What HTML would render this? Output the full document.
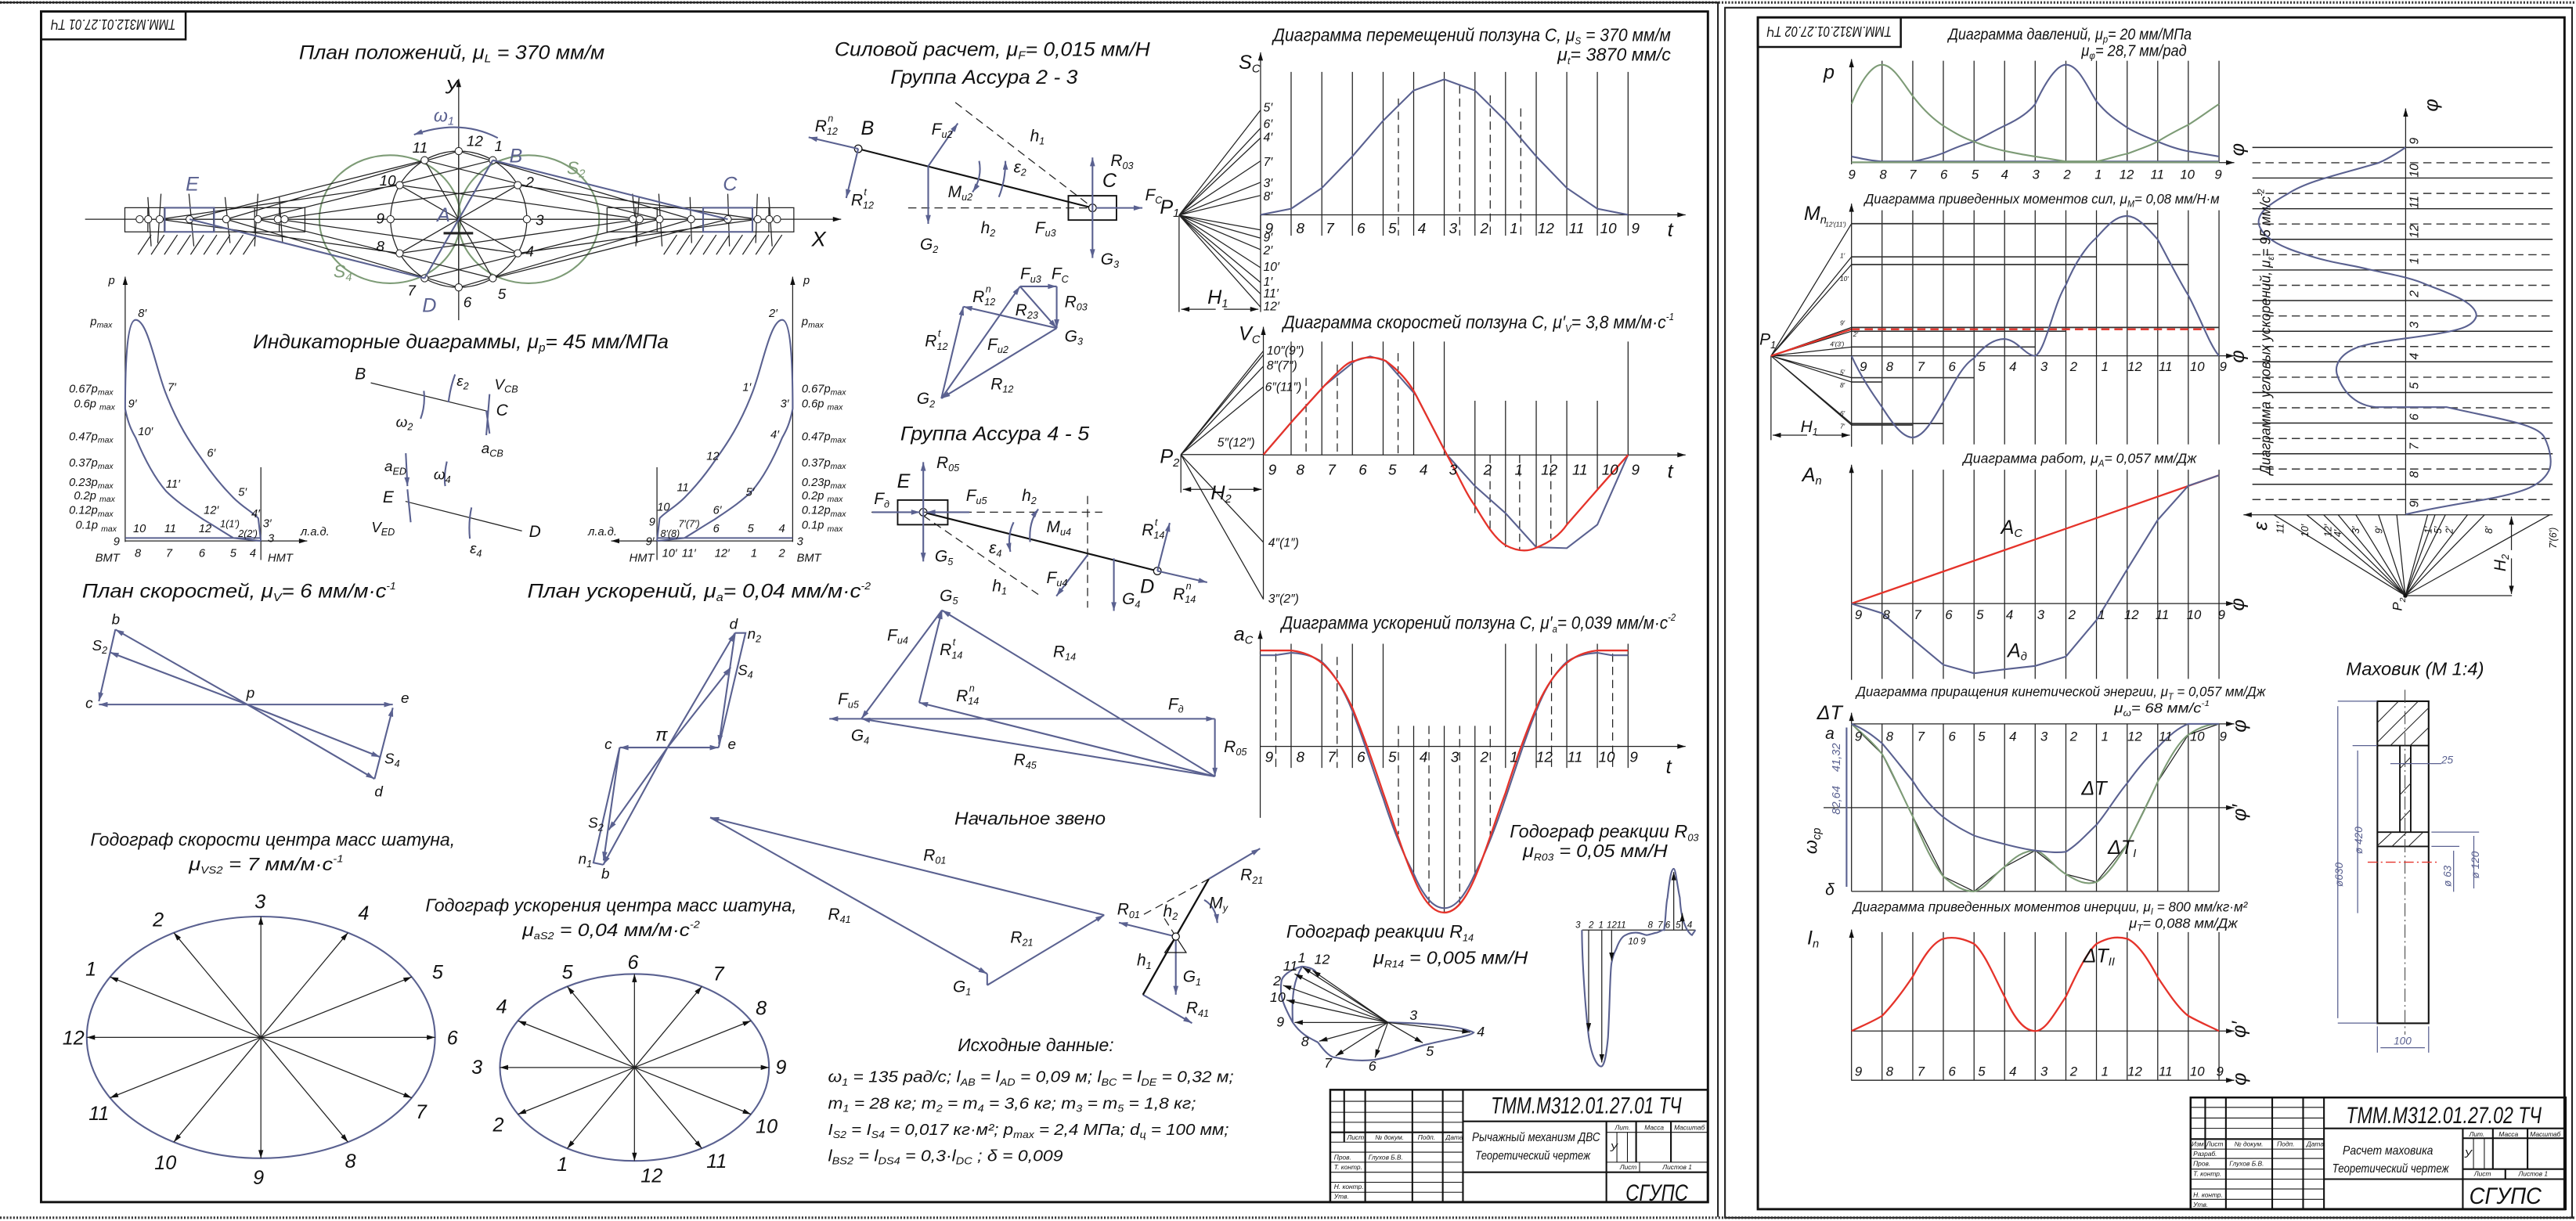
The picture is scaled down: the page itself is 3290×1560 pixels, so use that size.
<!DOCTYPE html>
<html><head><meta charset="utf-8"><style>
html,body{margin:0;padding:0;background:#fff}
svg{display:block}
text{font-family:"Liberation Sans Narrow","Liberation Sans",sans-serif;font-style:italic;fill:#111}
.b{stroke:#5a6190;fill:none;stroke-width:1}
.k{stroke:#222;fill:none;stroke-width:.6}
.g{stroke:#7d9b76;fill:none;stroke-width:1}
.r{stroke:#e5332a;fill:none;stroke-width:1.1}
.d{stroke-dasharray:5 3}
</style></head><body>
<svg width="3290" height="1560" viewBox="0 0 1568 743.5" preserveAspectRatio="none" xmlns="http://www.w3.org/2000/svg">
<defs>
<marker id="ab" viewBox="0 0 10 6" refX="10" refY="3" markerWidth="7" markerHeight="3.2" markerUnits="userSpaceOnUse" orient="auto"><path d="M0 0L10 3L0 6z" fill="#5a6190"/></marker>
<marker id="ak" viewBox="0 0 10 6" refX="10" refY="3" markerWidth="7" markerHeight="3" markerUnits="userSpaceOnUse" orient="auto"><path d="M0 0L10 3L0 6z" fill="#111"/></marker>
</defs>
<rect width="1568" height="743.5" fill="#fff"/>
<line x1="0" y1="1.5" x2="1568" y2="1.5" stroke="#333" stroke-width="1.5" stroke-dasharray="1 1"/>
<path d="M0 1.5H1045.7V741" stroke="#222" stroke-width="1" fill="none"/>
<rect x="25" y="7" width="1014.6" height="725" fill="none" stroke="#111" stroke-width="1.4"/>
<path d="M1050 4.7H1565.6V741.5H1050z" stroke="#222" stroke-width="1" fill="none"/>
<rect x="1070" y="10.6" width="491" height="725.7" fill="none" stroke="#111" stroke-width="1.4"/>
<line x1="0" y1="741.5" x2="1568" y2="741.5" stroke="#333" stroke-width="1.5" stroke-dasharray="1 1"/>
<rect x="25" y="7" width="88" height="17" fill="none" stroke="#111" stroke-width="1.2"/>
<text transform="rotate(180 69 15.5)" x="31" y="19" font-size="9" textLength="76" lengthAdjust="spacingAndGlyphs">ТММ.М312.01.27.01 ТЧ</text>
<rect x="1070" y="10.6" width="87" height="18" fill="none" stroke="#111" stroke-width="1.2"/>
<text transform="rotate(180 1113.5 19.6)" x="1075.5" y="23" font-size="9" textLength="76" lengthAdjust="spacingAndGlyphs">ТММ.М312.01.27.02 ТЧ</text>

<!-- Plan of positions -->
<text x="182" y="36" font-size="12" textLength="186" lengthAdjust="spacingAndGlyphs">План положений, μ<tspan font-size="7" dy="2">L</tspan><tspan dy="-2"> = 370 мм/м</tspan></text>
<line x1="279.2" y1="195" x2="279.2" y2="48" class="k" stroke-width=".8" marker-end="url(#ak)"/>
<line x1="51.8" y1="133.5" x2="512" y2="133.5" class="k" stroke-width=".7" marker-end="url(#ak)"/>
<text x="271" y="57" font-size="12">У</text><text x="494" y="150" font-size="13">X</text>
<path class="k" d="M76 126.5H185.6V141.2H76zM90 126.5V141.2M100 126.5V141.2M130 126.5V141.2M155 126.5V141.2M170 126.5V141.2M369.5 126.5H483.2V141.2H369.5zM387 126.5V141.2M400 126.5V141.2M428 126.5V141.2M458 126.5V141.2M468 126.5V141.2"/>
<path class="k" stroke-width=".5" d="M92 155L100 143M100 155L108 143M108 155L116 143M116 155L124 143M124 155L132 143M132 155L140 143M140 155L148 143M148 155L156 143M84 155L92 143M420 155L428 143M428 155L436 143M436 155L444 143M444 155L452 143M452 155L460 143M460 155L468 143M468 155L476 143M412 155L420 143M404 155L412 143M90 120L92 150M98 118L96 148M115 118L118 150M137 120L140 148M157 118L155 150M170 120L172 148M385 118L388 148M389 120L387 150M401 118L403 150M420 120L421 148M443 118L444 150M461 118L460 148M468 120L470 150"/>
<ellipse cx="237.4" cy="133.5" rx="43" ry="39" class="g" stroke-width=".8"/>
<ellipse cx="321.7" cy="133.5" rx="43" ry="39" class="g" stroke-width=".8"/>
<ellipse cx="279.2" cy="133.5" rx="41.5" ry="41.5" class="k"/>
<path class="k" stroke-width=".55" d="M279.2 92L420.7 133.5M299.95 97.56L443 133.5M315.14 112.75L461.2 133.5M320.7 133.5L468.2 133.5M315.14 154.25L461.2 133.5M299.95 169.44L443 133.5M279.2 175L420.7 133.5M258.45 169.44L401.5 133.5M243.26 154.25L389.3 133.5M237.7 133.5L385.2 133.5M243.26 112.75L389.3 133.5M258.45 97.56L401.5 133.5
M279.2 92L137.7 133.5M299.95 97.56L156.9 133.5M315.14 112.75L169.1 133.5M315.14 154.25L169.1 133.5M299.95 169.44L156.9 133.5M279.2 175L137.7 133.5M258.45 169.44L115.4 133.5M243.26 154.25L97.2 133.5M237.7 133.5L90.2 133.5M243.26 112.75L97.2 133.5M258.45 97.56L115.4 133.5
M279.2 92L279.2 175M299.95 97.56L258.45 169.44M315.14 112.75L243.26 154.25M315.14 154.25L243.26 112.75M299.95 169.44L258.45 97.56"/>
<g fill="#fff" stroke="#222" stroke-width=".5">
<circle cx="279.2" cy="92" r="2.2"/><circle cx="299.95" cy="97.56" r="2.2"/><circle cx="315.14" cy="112.75" r="2.2"/><circle cx="320.7" cy="133.5" r="2.2"/><circle cx="315.14" cy="154.25" r="2.2"/><circle cx="299.95" cy="169.44" r="2.2"/><circle cx="279.2" cy="175" r="2.2"/><circle cx="258.45" cy="169.44" r="2.2"/><circle cx="243.26" cy="154.25" r="2.2"/><circle cx="237.7" cy="133.5" r="2.2"/><circle cx="243.26" cy="112.75" r="2.2"/><circle cx="258.45" cy="97.56" r="2.2"/>
<circle cx="420.7" cy="133.5" r="2.2"/><circle cx="443" cy="133.5" r="2.2"/><circle cx="461.2" cy="133.5" r="2.2"/><circle cx="468.2" cy="133.5" r="2.2"/><circle cx="401.5" cy="133.5" r="2.2"/><circle cx="389.3" cy="133.5" r="2.2"/><circle cx="385.2" cy="133.5" r="2.2"/><circle cx="473" cy="133.5" r="2.2"/>
<circle cx="137.7" cy="133.5" r="2.2"/><circle cx="156.9" cy="133.5" r="2.2"/><circle cx="169.1" cy="133.5" r="2.2"/><circle cx="173.2" cy="133.5" r="2.2"/><circle cx="115.4" cy="133.5" r="2.2"/><circle cx="97.2" cy="133.5" r="2.2"/><circle cx="90.2" cy="133.5" r="2.2"/><circle cx="85" cy="133.5" r="2.2"/>
</g>
<path class="b" stroke-width="1.8" d="M299.95 97.56L443 133.5M258.45 169.44L115.4 133.5M299.95 97.56L258.45 169.44"/>
<rect x="428" y="126.5" width="30" height="14.7" class="b" stroke-width="1.6"/>
<rect x="100.3" y="126.5" width="30" height="14.7" class="b" stroke-width="1.6"/>
<path d="M303 84Q280 72 252 82" class="b" stroke-width="1.2" marker-end="url(#ab)"/>
<line x1="270" y1="142" x2="288" y2="142" stroke="#222" stroke-width="1.5"/>
<g font-size="9">
<text x="264" y="74" style="fill:#5a6190" font-size="11">ω<tspan font-size="7" dy="2">1</tspan></text>
<text x="284" y="89">12</text><text x="301" y="92">1</text><text x="310" y="99" font-size="12" style="fill:#5a6190">B</text>
<text x="251" y="93">11</text><text x="231" y="113">10</text><text x="320" y="114">2</text><text x="229" y="136">9</text><text x="326" y="137">3</text>
<text x="229" y="153">8</text><text x="320" y="156">4</text><text x="248" y="180">7</text><text x="257" y="190" font-size="12" style="fill:#5a6190">D</text><text x="282" y="187">6</text><text x="303" y="182">5</text>
<text x="266" y="135" font-size="12" style="fill:#5a6190">A</text>
<text x="113" y="116" font-size="12" style="fill:#5a6190">E</text><text x="440" y="116" font-size="12" style="fill:#5a6190">C</text>
<text x="345" y="106" font-size="11" style="fill:#7d9b76">S<tspan font-size="7" dy="2">2</tspan></text>
<text x="203" y="169" font-size="11" style="fill:#7d9b76">S<tspan font-size="7" dy="2">4</tspan></text>
</g>

<!-- Indicator diagrams -->
<text x="154" y="212" font-size="12" textLength="253" lengthAdjust="spacingAndGlyphs">Индикаторные диаграммы, μ<tspan font-size="7" dy="2">p</tspan><tspan dy="-2">= 45 мм/МПа</tspan></text>
<line x1="76.2" y1="330" x2="76.2" y2="168.5" class="k" marker-end="url(#ak)"/>
<line x1="76.2" y1="329.4" x2="187" y2="329.4" class="k" marker-end="url(#ak)"/>
<line x1="158.8" y1="284.5" x2="158.8" y2="341" class="k"/>
<path class="b" d="M76.2 249C76.2 215 78 194.8 82.6 194.8C90 194.8 95 225 101 239.7C108 258 116 270 123 279.7C130 290 136 297 142.1 303.1C148 309 154 312 157.2 315.6L158.8 329.4M76.2 249C78 258 80 262 82.6 266.6C89 282 95 292 101 299C108 306 116 311 123.7 316.3C130 320 136 324 142.1 327.6L158.8 329.4M76.2 327.6H158.8"/>
<line x1="482.5" y1="330" x2="482.5" y2="168.5" class="k" marker-end="url(#ak)"/>
<line x1="482.5" y1="329.4" x2="372" y2="329.4" class="k" marker-end="url(#ak)"/>
<line x1="399.9" y1="284.5" x2="399.9" y2="341" class="k"/>
<path class="b" d="M482.5 249C482.5 215 480.7 194.8 476.1 194.8C468.7 194.8 463.7 225 457.7 239.7C450.7 258 442.7 270 435.7 279.7C428.7 290 422.7 297 416.6 303.1C410.7 309 404.7 312 401.5 315.6L399.9 329.4M482.5 249C480.7 258 478.7 262 476.1 266.6C469.7 282 463.7 292 457.7 299C450.7 306 442.7 311 435 316.3C428.7 320 422.7 324 416.6 327.6L399.9 329.4M482.5 327.6H399.9"/>
<g font-size="7">
<text x="66" y="173">p</text><text x="55" y="198">p<tspan font-size="5" dy="1.5">max</tspan></text>
<text x="42" y="239">0.67p<tspan font-size="5" dy="1.5">max</tspan></text><text x="45" y="248">0.6p <tspan font-size="5" dy="1.5">max</tspan></text>
<text x="42" y="268">0.47p<tspan font-size="5" dy="1.5">max</tspan></text><text x="42" y="284">0.37p<tspan font-size="5" dy="1.5">max</tspan></text>
<text x="42" y="296">0.23p<tspan font-size="5" dy="1.5">max</tspan></text><text x="45" y="304">0.2p <tspan font-size="5" dy="1.5">max</tspan></text>
<text x="42" y="313">0.12p<tspan font-size="5" dy="1.5">max</tspan></text><text x="46" y="322">0.1p <tspan font-size="5" dy="1.5">max</tspan></text>
<text x="84" y="193">8′</text><text x="102" y="238">7′</text><text x="78" y="248">9′</text><text x="84" y="265">10′</text><text x="126" y="278">6′</text><text x="101" y="297">11′</text><text x="145" y="302">5′</text><text x="124" y="313">12′</text><text x="153" y="315">4′</text><text x="160" y="321">3′</text><text x="134" y="321" font-size="6">1(1′)</text><text x="145" y="327" font-size="6">2(2′)</text>
<text x="81" y="324">10</text><text x="100" y="324">11</text><text x="121" y="324">12</text><text x="69" y="332">9</text><text x="163" y="330">3</text><text x="183" y="326">л.а.д.</text>
<text x="82" y="339">8</text><text x="101" y="339">7</text><text x="121" y="339">6</text><text x="140" y="339">5</text><text x="152" y="339">4</text>
<text x="58" y="342">ВМТ</text><text x="163" y="342">НМТ</text>
<text x="489" y="173">p</text><text x="488" y="198">p<tspan font-size="5" dy="1.5">max</tspan></text>
<text x="488" y="239">0.67p<tspan font-size="5" dy="1.5">max</tspan></text><text x="488" y="248">0.6p <tspan font-size="5" dy="1.5">max</tspan></text>
<text x="488" y="268">0.47p<tspan font-size="5" dy="1.5">max</tspan></text><text x="488" y="284">0.37p<tspan font-size="5" dy="1.5">max</tspan></text>
<text x="488" y="296">0.23p<tspan font-size="5" dy="1.5">max</tspan></text><text x="488" y="304">0.2p <tspan font-size="5" dy="1.5">max</tspan></text>
<text x="488" y="313">0.12p<tspan font-size="5" dy="1.5">max</tspan></text><text x="488" y="322">0.1p <tspan font-size="5" dy="1.5">max</tspan></text>
<text x="468" y="193">2′</text><text x="452" y="238">1′</text><text x="475" y="248">3′</text><text x="469" y="267">4′</text><text x="430" y="280">12</text><text x="412" y="299">11</text><text x="454" y="302">5′</text><text x="400" y="311">10</text><text x="434" y="313">6′</text><text x="395" y="320">9</text><text x="413" y="321" font-size="6">7′(7′)</text><text x="402" y="327" font-size="6">8′(8)</text>
<text x="434" y="324">6</text><text x="455" y="324">5</text><text x="474" y="324">4</text><text x="485" y="332">3</text><text x="358" y="326">л.а.д.</text><text x="393" y="332">9′</text>
<text x="403" y="339">10′</text><text x="415" y="339">11′</text><text x="435" y="339">12′</text><text x="457" y="339">1</text><text x="474" y="339">2</text>
<text x="383" y="342">НМТ</text><text x="485" y="342">ВМТ</text>
</g>
<line x1="225.7" y1="233.1" x2="297.6" y2="250.6" class="k" stroke-width=".8"/>
<line x1="246.8" y1="305.3" x2="317.7" y2="323.3" class="k" stroke-width=".8"/>
<path class="b" d="M296 265L298 240M298 264L296 250M273 245Q274 236 277 228M256 255Q259 247 258 238M271 296Q270 290 272 281M286 328Q285 318 287 309M250 318L248 298M247 276L248 296" marker-end="url(#ab)"/>
<g font-size="10"><text x="216" y="231">B</text><text x="302" y="253">C</text><text x="233" y="306">E</text><text x="322" y="327">D</text>
<text x="278" y="235" font-size="9">ε<tspan font-size="6" dy="2">2</tspan></text><text x="301" y="237" font-size="9">V<tspan font-size="6" dy="2">CB</tspan></text><text x="241" y="260" font-size="9">ω<tspan font-size="6" dy="2">2</tspan></text><text x="293" y="276" font-size="9">a<tspan font-size="6" dy="2">CB</tspan></text>
<text x="234" y="287" font-size="9">a<tspan font-size="6" dy="2">ED</tspan></text><text x="264" y="292" font-size="9">ω<tspan font-size="6" dy="2">4</tspan></text><text x="226" y="324" font-size="9">V<tspan font-size="6" dy="2">ED</tspan></text><text x="286" y="337" font-size="9">ε<tspan font-size="6" dy="2">4</tspan></text></g>

<!-- Velocity plan -->
<text x="50" y="364" font-size="12" textLength="191" lengthAdjust="spacingAndGlyphs">План скоростей, μ<tspan font-size="7" dy="2">V</tspan><tspan dy="-2">= 6 мм/м·с</tspan><tspan font-size="6" dy="-5">-1</tspan></text>
<g class="b" marker-end="url(#ab)">
<line x1="150.5" y1="429" x2="70.2" y2="383.3"/><line x1="150.5" y1="429" x2="66.9" y2="397.2"/><line x1="150.5" y1="429" x2="60.2" y2="429"/>
<line x1="150.5" y1="429" x2="239.1" y2="429"/><line x1="150.5" y1="429" x2="231.4" y2="461"/><line x1="150.5" y1="429" x2="228" y2="474.3"/>
<line x1="70.2" y1="383.3" x2="60.2" y2="427"/><line x1="228" y1="474.3" x2="239.1" y2="431"/></g>
<g font-size="9"><text x="68" y="380">b</text><text x="56" y="396">S<tspan font-size="6" dy="2">2</tspan></text><text x="52" y="431">c</text><text x="150" y="425">p</text><text x="244" y="428">e</text><text x="234" y="465">S<tspan font-size="6" dy="2">4</tspan></text><text x="228" y="485">d</text></g>
<text x="321" y="364" font-size="12" textLength="209" lengthAdjust="spacingAndGlyphs">План ускорений, μ<tspan font-size="7" dy="2">a</tspan><tspan dy="-2">= 0,04 мм/м·с</tspan><tspan font-size="6" dy="-5">-2</tspan></text>
<g class="b" marker-end="url(#ab)">
<line x1="406.3" y1="455.2" x2="447.4" y2="385.4"/><line x1="406.3" y1="455.2" x2="444.8" y2="406.3"/><line x1="406.3" y1="455.2" x2="437.4" y2="455.2"/>
<line x1="406.3" y1="455.2" x2="377.2" y2="455.2"/><line x1="406.3" y1="455.2" x2="370.5" y2="505.4"/><line x1="406.3" y1="455.2" x2="367.2" y2="526.6"/>
<line x1="447.4" y1="385.4" x2="437.6" y2="453"/><line x1="377.2" y1="455.2" x2="367.4" y2="524"/></g>
<path class="b" d="M447.4 385.4H453.8L437.4 455.2M377.2 455.2L361.2 525.3L367.2 526.6"/>
<g font-size="9"><text x="444" y="383">d</text><text x="455" y="389">n<tspan font-size="6" dy="2">2</tspan></text><text x="449" y="411">S<tspan font-size="6" dy="2">4</tspan></text><text x="443" y="456">e</text><text x="399" y="451" font-size="11">π</text><text x="368" y="456">c</text><text x="358" y="504">S<tspan font-size="6" dy="2">2</tspan></text><text x="352" y="526">n<tspan font-size="6" dy="2">1</tspan></text><text x="366" y="535">b</text></g>

<!-- Velocity hodograph -->
<text x="55" y="515" font-size="11" textLength="222" lengthAdjust="spacingAndGlyphs">Годограф скорости центра масс шатуна,</text>
<text x="115" y="530" font-size="11" textLength="94" lengthAdjust="spacingAndGlyphs">μ<tspan font-size="6" dy="2">VS2</tspan><tspan dy="-2"> = 7 мм/м·с</tspan><tspan font-size="6" dy="-5">-1</tspan></text>
<ellipse cx="158.8" cy="631.7" rx="106" ry="73.6" class="b" stroke-width="1.1"/>
<g class="k" marker-end="url(#ak)">
<line x1="158.8" y1="631.7" x2="158.8" y2="558.1"/><line x1="158.8" y1="631.7" x2="211.8" y2="567.96"/><line x1="158.8" y1="631.7" x2="250.6" y2="594.9"/><line x1="158.8" y1="631.7" x2="264.8" y2="631.7"/><line x1="158.8" y1="631.7" x2="250.6" y2="668.5"/><line x1="158.8" y1="631.7" x2="211.8" y2="695.4"/><line x1="158.8" y1="631.7" x2="158.8" y2="705.3"/><line x1="158.8" y1="631.7" x2="105.8" y2="695.4"/><line x1="158.8" y1="631.7" x2="67" y2="668.5"/><line x1="158.8" y1="631.7" x2="52.8" y2="631.7"/><line x1="158.8" y1="631.7" x2="67" y2="594.9"/><line x1="158.8" y1="631.7" x2="105.8" y2="567.96"/></g>
<g font-size="12"><text x="155" y="553">3</text><text x="218" y="560">4</text><text x="263" y="596">5</text><text x="272" y="636">6</text><text x="253" y="681">7</text><text x="210" y="711">8</text><text x="154" y="721">9</text><text x="94" y="712">10</text><text x="54" y="682">11</text><text x="38" y="636">12</text><text x="52" y="594">1</text><text x="93" y="564">2</text></g>
<text x="259" y="555" font-size="11" textLength="226" lengthAdjust="spacingAndGlyphs">Годограф ускорения центра масс шатуна,</text>
<text x="318" y="570" font-size="11" textLength="108" lengthAdjust="spacingAndGlyphs">μ<tspan font-size="6" dy="2">aS2</tspan><tspan dy="-2"> = 0,04 мм/м·с</tspan><tspan font-size="6" dy="-5">-2</tspan></text>
<ellipse cx="386.2" cy="650" rx="81.9" ry="56.9" class="b" stroke-width="1.1"/>
<g class="k" marker-end="url(#ak)">
<line x1="386.2" y1="650" x2="386.2" y2="593.1"/><line x1="386.2" y1="650" x2="427.2" y2="600.7"/><line x1="386.2" y1="650" x2="457.1" y2="621.6"/><line x1="386.2" y1="650" x2="468.1" y2="650"/><line x1="386.2" y1="650" x2="457.1" y2="678.5"/><line x1="386.2" y1="650" x2="427.2" y2="699.3"/><line x1="386.2" y1="650" x2="386.2" y2="706.9"/><line x1="386.2" y1="650" x2="345.3" y2="699.3"/><line x1="386.2" y1="650" x2="315.3" y2="678.5"/><line x1="386.2" y1="650" x2="304.3" y2="650"/><line x1="386.2" y1="650" x2="315.3" y2="621.6"/><line x1="386.2" y1="650" x2="345.3" y2="600.7"/></g>
<g font-size="12"><text x="382" y="590">6</text><text x="434" y="597">7</text><text x="460" y="618">8</text><text x="472" y="654">9</text><text x="460" y="690">10</text><text x="430" y="711">11</text><text x="390" y="720">12</text><text x="339" y="713">1</text><text x="300" y="689">2</text><text x="287" y="654">3</text><text x="302" y="617">4</text><text x="342" y="596">5</text></g>

<!-- Force analysis -->
<text x="508" y="34" font-size="12" textLength="192" lengthAdjust="spacingAndGlyphs">Силовой расчет, μ<tspan font-size="7" dy="2">F</tspan><tspan dy="-2">= 0,015 мм/Н</tspan></text>
<text x="542" y="51" font-size="12" textLength="114" lengthAdjust="spacingAndGlyphs">Группа Ассура 2 - 3</text>
<line x1="522.4" y1="90.6" x2="665" y2="126.6" stroke="#111" stroke-width="1"/>
<rect x="650.3" y="119.2" width="29.3" height="14.8" fill="none" stroke="#111" stroke-width=".9"/>
<circle cx="522.4" cy="90.6" r="2.3" fill="#fff" stroke="#111" stroke-width=".6"/><circle cx="665" cy="126.6" r="2.3" fill="#fff" stroke="#111" stroke-width=".6"/>
<path class="k d" d="M552.8 126.6H665M581.5 62.4L662 124"/>
<g class="b" marker-end="url(#ab)">
<line x1="565" y1="101.2" x2="565" y2="136.3"/><line x1="565" y1="101.2" x2="583" y2="75.1"/>
<line x1="522.4" y1="90.6" x2="492.2" y2="83.6"/><line x1="522.4" y1="90.6" x2="515.1" y2="120.6"/>
<line x1="665" y1="126.6" x2="665" y2="95.9"/><line x1="665" y1="126.6" x2="665" y2="157.1"/><line x1="667" y1="126.6" x2="695.4" y2="126.6"/>
<path d="M596 98Q598 108 592 117"/><path d="M608 120Q612 110 612 98"/></g>
<g font-size="10"><text x="496" y="80">R<tspan font-size="6" dy="2">12</tspan><tspan font-size="6" dx="-6" dy="-8">n</tspan></text><text x="524" y="82" font-size="12">B</text><text x="567" y="82">F<tspan font-size="6" dy="2">u2</tspan></text><text x="627" y="86">h<tspan font-size="6" dy="2">1</tspan></text>
<text x="676" y="101">R<tspan font-size="6" dy="2">03</tspan></text><text x="671" y="114" font-size="12">C</text><text x="697" y="122">F<tspan font-size="6" dy="2">C</tspan></text><text x="617" y="105">ε<tspan font-size="6" dy="2">2</tspan></text>
<text x="577" y="120">M<tspan font-size="6" dy="2">u2</tspan></text><text x="518" y="125">R<tspan font-size="6" dy="2">12</tspan><tspan font-size="6" dx="-6" dy="-8">t</tspan></text><text x="597" y="142">h<tspan font-size="6" dy="2">2</tspan></text><text x="630" y="142">F<tspan font-size="6" dy="2">u3</tspan></text><text x="560" y="152">G<tspan font-size="6" dy="2">2</tspan></text><text x="670" y="161">G<tspan font-size="6" dy="2">3</tspan></text></g>
<g class="b" marker-end="url(#ab)">
<line x1="573" y1="242.6" x2="620.9" y2="174.4"/><line x1="573" y1="242.6" x2="586.4" y2="186.7"/><line x1="643.2" y1="199.8" x2="586.4" y2="186.7"/>
<line x1="620.9" y1="174.4" x2="643.2" y2="174.4"/><line x1="643.2" y1="174.4" x2="643.2" y2="199.8"/><line x1="620.9" y1="174.4" x2="643.2" y2="199.8"/><line x1="643.2" y1="199.8" x2="573" y2="242.6"/></g>
<g font-size="10"><text x="621" y="170">F<tspan font-size="6" dy="2">u3</tspan></text><text x="640" y="170">F<tspan font-size="6" dy="2">C</tspan></text><text x="592" y="184">R<tspan font-size="6" dy="2">12</tspan><tspan font-size="6" dx="-6" dy="-8">n</tspan></text><text x="648" y="187">R<tspan font-size="6" dy="2">03</tspan></text><text x="618" y="192">R<tspan font-size="6" dy="2">23</tspan></text><text x="648" y="208">G<tspan font-size="6" dy="2">3</tspan></text><text x="563" y="211">R<tspan font-size="6" dy="2">12</tspan><tspan font-size="6" dx="-6" dy="-8">t</tspan></text><text x="601" y="213">F<tspan font-size="6" dy="2">u2</tspan></text><text x="603" y="237">R<tspan font-size="6" dy="2">12</tspan></text><text x="558" y="246">G<tspan font-size="6" dy="2">2</tspan></text></g>
<text x="548" y="268" font-size="12" textLength="115" lengthAdjust="spacingAndGlyphs">Группа Ассура 4 - 5</text>
<line x1="562" y1="311.9" x2="704.5" y2="347.7" stroke="#111" stroke-width="1"/>
<rect x="546.4" y="304.5" width="30.5" height="15" fill="none" stroke="#111" stroke-width=".9"/>
<circle cx="562" cy="311.9" r="2.3" fill="#fff" stroke="#111" stroke-width=".6"/><circle cx="704.5" cy="347.7" r="2.3" fill="#fff" stroke="#111" stroke-width=".6"/>
<path class="k d" d="M530.5 311.9H671M662 302V370M562 314L632 362"/>
<g class="b" marker-end="url(#ab)">
<line x1="562" y1="311.9" x2="562" y2="281.4"/><line x1="562" y1="311.9" x2="562" y2="341.9"/><line x1="531" y1="311.9" x2="560" y2="311.9"/><line x1="590" y1="311.9" x2="564" y2="311.9"/>
<line x1="704.5" y1="347.7" x2="712" y2="318.4"/><line x1="704.5" y1="347.7" x2="734.8" y2="354.6"/>
<line x1="662" y1="338" x2="643" y2="363"/><line x1="678" y1="340" x2="678" y2="372"/>
<path d="M617 318Q613 326 615 336"/><path d="M627 330Q626 318 632 310"/></g>
<g font-size="10"><text x="570" y="285">R<tspan font-size="6" dy="2">05</tspan></text><text x="546" y="297" font-size="12">E</text><text x="532" y="307">F<tspan font-size="6" dy="2">д</tspan></text><text x="588" y="305">F<tspan font-size="6" dy="2">u5</tspan></text><text x="622" y="305">h<tspan font-size="6" dy="2">2</tspan></text><text x="637" y="324">M<tspan font-size="6" dy="2">u4</tspan></text><text x="602" y="337">ε<tspan font-size="6" dy="2">4</tspan></text><text x="569" y="342">G<tspan font-size="6" dy="2">5</tspan></text><text x="695" y="326">R<tspan font-size="6" dy="2">14</tspan><tspan font-size="6" dx="-6" dy="-8">t</tspan></text><text x="637" y="355">F<tspan font-size="6" dy="2">u4</tspan></text><text x="694" y="361" font-size="12">D</text><text x="714" y="365">R<tspan font-size="6" dy="2">14</tspan><tspan font-size="6" dx="-6" dy="-8">n</tspan></text><text x="604" y="360">h<tspan font-size="6" dy="2">1</tspan></text><text x="683" y="368">G<tspan font-size="6" dy="2">4</tspan></text></g>
<g class="b" marker-end="url(#ab)">
<line x1="573.4" y1="371.6" x2="524.3" y2="437.7"/><line x1="559.5" y1="427.8" x2="573.4" y2="371.6"/><line x1="739.5" y1="472.8" x2="559.5" y2="427.8"/><line x1="739.5" y1="472.8" x2="573.4" y2="371.6"/>
<line x1="524.3" y1="437.7" x2="504.8" y2="437.7"/><line x1="524.3" y1="437.7" x2="739.5" y2="437.7"/><line x1="739.5" y1="437.7" x2="739.5" y2="472.8"/><line x1="739.5" y1="472.8" x2="524.3" y2="437.7"/></g>
<g font-size="10"><text x="572" y="366">G<tspan font-size="6" dy="2">5</tspan></text><text x="540" y="390">F<tspan font-size="6" dy="2">u4</tspan></text><text x="572" y="399">R<tspan font-size="6" dy="2">14</tspan><tspan font-size="6" dx="-6" dy="-8">t</tspan></text><text x="641" y="400">R<tspan font-size="6" dy="2">14</tspan></text><text x="510" y="429">F<tspan font-size="6" dy="2">u5</tspan></text><text x="582" y="427">R<tspan font-size="6" dy="2">14</tspan><tspan font-size="6" dx="-6" dy="-8">n</tspan></text><text x="711" y="432">F<tspan font-size="6" dy="2">д</tspan></text><text x="518" y="451">G<tspan font-size="6" dy="2">4</tspan></text><text x="745" y="458">R<tspan font-size="6" dy="2">05</tspan></text><text x="617" y="466">R<tspan font-size="6" dy="2">45</tspan></text></g>
<text x="581" y="502" font-size="11" textLength="92" lengthAdjust="spacingAndGlyphs">Начальное звено</text>
<g class="b" marker-end="url(#ab)">
<line x1="672.1" y1="557.2" x2="432.3" y2="497.8"/><line x1="432.3" y1="497.8" x2="600.9" y2="593"/><line x1="600.9" y1="599.9" x2="672.1" y2="557.2"/>
<line x1="735.8" y1="535.2" x2="767" y2="516.7"/><line x1="715.7" y1="570.3" x2="681.1" y2="561.8"/><line x1="715.7" y1="570.3" x2="715.7" y2="605.7"/><line x1="695.7" y1="605.7" x2="725.6" y2="623"/>
<path d="M733 548Q740 552 741 562"/></g>
<path d="M600.9 593V599.9" class="b"/>
<path d="M715.7 570.3L735.8 535.2M715.7 570.3L695.7 605.7" stroke="#111" stroke-width="1.1" fill="none"/>
<path class="k d" d="M735.8 535.2L694 558M715.7 570.3L708 558"/>
<path d="M709 580L715.7 570.3L722 580z" fill="none" stroke="#111" stroke-width=".6"/>
<circle cx="715.7" cy="570.3" r="2.2" fill="#fff" stroke="#111" stroke-width=".6"/>
<g font-size="10"><text x="562" y="524">R<tspan font-size="6" dy="2">01</tspan></text><text x="504" y="560">R<tspan font-size="6" dy="2">41</tspan></text><text x="615" y="574">R<tspan font-size="6" dy="2">21</tspan></text><text x="580" y="604">G<tspan font-size="6" dy="2">1</tspan></text><text x="680" y="557">R<tspan font-size="6" dy="2">01</tspan></text><text x="708" y="558">h<tspan font-size="6" dy="2">2</tspan></text><text x="736" y="553">M<tspan font-size="6" dy="2">y</tspan></text><text x="755" y="536">R<tspan font-size="6" dy="2">21</tspan></text><text x="692" y="588">h<tspan font-size="6" dy="2">1</tspan></text><text x="720" y="598">G<tspan font-size="6" dy="2">1</tspan></text><text x="722" y="617">R<tspan font-size="6" dy="2">41</tspan></text></g>
<text x="583" y="640" font-size="11" textLength="95" lengthAdjust="spacingAndGlyphs">Исходные данные:</text>
<g font-size="9.5"><text x="504" y="659" textLength="247" lengthAdjust="spacingAndGlyphs">ω<tspan font-size="6" dy="2">1</tspan><tspan dy="-2"> = 135 рад/с; l</tspan><tspan font-size="6" dy="2">AB</tspan><tspan dy="-2"> = l</tspan><tspan font-size="6" dy="2">AD</tspan><tspan dy="-2"> = 0,09 м; l</tspan><tspan font-size="6" dy="2">BC</tspan><tspan dy="-2"> = l</tspan><tspan font-size="6" dy="2">DE</tspan><tspan dy="-2"> = 0,32 м;</tspan></text>
<text x="504" y="675" textLength="224" lengthAdjust="spacingAndGlyphs">m<tspan font-size="6" dy="2">1</tspan><tspan dy="-2"> = 28 кг; m</tspan><tspan font-size="6" dy="2">2</tspan><tspan dy="-2"> = m</tspan><tspan font-size="6" dy="2">4</tspan><tspan dy="-2"> = 3,6 кг; m</tspan><tspan font-size="6" dy="2">3</tspan><tspan dy="-2"> = m</tspan><tspan font-size="6" dy="2">5</tspan><tspan dy="-2"> = 1,8 кг;</tspan></text>
<text x="504" y="691" textLength="244" lengthAdjust="spacingAndGlyphs">I<tspan font-size="6" dy="2">S2</tspan><tspan dy="-2"> = I</tspan><tspan font-size="6" dy="2">S4</tspan><tspan dy="-2"> = 0,017 кг·м²; p</tspan><tspan font-size="6" dy="2">max</tspan><tspan dy="-2"> = 2,4 МПа; d</tspan><tspan font-size="6" dy="2">ц</tspan><tspan dy="-2"> = 100 мм;</tspan></text>
<text x="504" y="707" textLength="143" lengthAdjust="spacingAndGlyphs">l<tspan font-size="6" dy="2">BS2</tspan><tspan dy="-2"> = l</tspan><tspan font-size="6" dy="2">DS4</tspan><tspan dy="-2"> = 0,3·l</tspan><tspan font-size="6" dy="2">DC</tspan><tspan dy="-2"> ; δ = 0,009</tspan></text></g>

<!-- Displacement diagram -->
<text x="775" y="25" font-size="11" textLength="242" lengthAdjust="spacingAndGlyphs">Диаграмма перемещений ползуна С, μ<tspan font-size="6" dy="2">S</tspan><tspan dy="-2"> = 370 мм/м</tspan></text>
<text x="948" y="37" font-size="11" textLength="69" lengthAdjust="spacingAndGlyphs">μ<tspan font-size="6" dy="2">t</tspan><tspan dy="-2">= 3870 мм/с</tspan></text>
<path class="k" stroke-width=".8" d="M785.9 43.8V143.5M804.6 43.8V143.5M823.2 43.8V143.5M841.9 43.8V143.5M860.5 43.8V143.5M879.1 43.8V143.5M897.8 43.8V143.5M916.4 43.8V143.5M935.1 43.8V143.5M953.7 43.8V143.5M972.3 43.8V143.5M991 43.8V143.5"/>
<path class="k d" d="M851.2 60V143.5M888.5 52V143.5M907.1 58V143.5M925.7 66V143.5"/>
<line x1="767.3" y1="145" x2="767.3" y2="31.9" class="k" stroke-width=".9" marker-end="url(#ak)"/>
<line x1="767.3" y1="130.8" x2="1026" y2="130.8" class="k" stroke-width=".9" marker-end="url(#ak)"/>
<polyline class="b" stroke-width="1.1" points="767.3,130.8 785.9,127.1 804.6,114.5 823.2,95.2 841.9,73.5 860.5,55.1 879.1,48.3 897.8,55.1 916.4,73.5 935.1,95.2 953.7,114.5 972.3,127.1 991,130.8"/>
<g font-size="9"><text x="770" y="142">9</text><text x="789" y="142">8</text><text x="807" y="142">7</text><text x="826" y="142">6</text><text x="845" y="142">5</text><text x="863" y="142">4</text><text x="882" y="142">3</text><text x="901" y="142">2</text><text x="919" y="142">1</text><text x="936" y="142">12</text><text x="955" y="142">11</text><text x="974" y="142">10</text><text x="993" y="142">9</text><text x="1015" y="144" font-size="12">t</text>
<text x="754" y="42" font-size="12">S<tspan font-size="7" dy="2">C</tspan></text><text x="706" y="130" font-size="12">P<tspan font-size="7" dy="2">1</tspan></text><text x="735" y="185" font-size="12">H<tspan font-size="7" dy="2">1</tspan></text></g>
<path class="k" stroke-width=".6" d="M717.7 131L767.3 67M717.7 131L767.3 78M717.7 131L767.3 84M717.7 131L767.3 98M717.7 131L767.3 111M717.7 131L767.3 119M717.7 131L767.3 140M717.7 131L767.3 145M717.7 131L767.3 152M717.7 131L767.3 163M717.7 131L767.3 172M717.7 131L767.3 179M717.7 131L767.3 187M717.7 131V190M767.3 131V190"/>
<line x1="740" y1="188.3" x2="719" y2="188.3" class="k" marker-end="url(#ak)"/><line x1="745" y1="188.3" x2="766" y2="188.3" class="k" marker-end="url(#ak)"/>
<g font-size="7.5"><text x="769" y="68">5′</text><text x="769" y="78">6′</text><text x="769" y="86">4′</text><text x="769" y="101">7′</text><text x="769" y="114">3′</text><text x="769" y="122">8′</text><text x="769" y="147">9′</text><text x="769" y="155">2′</text><text x="769" y="165">10′</text><text x="769" y="174">1′</text><text x="769" y="181">11′</text><text x="769" y="189">12′</text></g>

<!-- Velocity diagram -->
<text x="781" y="200" font-size="11" textLength="238" lengthAdjust="spacingAndGlyphs">Диаграмма скоростей ползуна С, μ′<tspan font-size="6" dy="2">V</tspan><tspan dy="-2">= 3,8 мм/м·с</tspan><tspan font-size="6" dy="-5">-1</tspan></text>
<path class="k" stroke-width=".8" d="M785.9 208V277M804.6 208V277M823.2 208V277M841.9 208V277M860.5 208V277M879.1 208V277M897.8 244V312.5M916.4 244V333.2M935.1 244V333.8M953.7 244V319.5M972.3 244V298.2M991 208V277"/>
<path class="k d" d="M795 230V277M814 222V277M851 215V277M907 277V325M925 277V335M944 277V328"/>
<line x1="769" y1="365" x2="769" y2="199" class="k" stroke-width=".9" marker-end="url(#ak)"/>
<line x1="769" y1="277" x2="1026" y2="277" class="k" stroke-width=".9" marker-end="url(#ak)"/>
<polyline class="b" stroke-width="1.1" points="769,276.9 787.5,255.4 806.2,234.8 824.7,219.8 834,217 843.5,219.8 862,240.8 880.7,276.9 897.8,296 916.4,312.5 935.1,333.2 953.7,333.8 972.3,319.5 991,277"/>
<path class="r" d="M769 276.9L787.5 255.4L806.2 234.8C815 226 820 220 824.7 219.8C830 217 838 217 843.5 219.8C852 226 858 233 862 240.8L880.7 276.9C888 290 892 300 897.8 308C905 320 910 328 916.4 332C924 336 930 336 935.1 333.5C944 330 950 325 953.7 319.5L972.3 298.2L991 277"/>
<g font-size="9"><text x="772" y="289">9</text><text x="789" y="289">8</text><text x="808" y="289">7</text><text x="827" y="289">6</text><text x="845" y="289">5</text><text x="864" y="289">4</text><text x="882" y="289">3</text><text x="903" y="289">2</text><text x="922" y="289">1</text><text x="938" y="289">12</text><text x="957" y="289">11</text><text x="975" y="289">10</text><text x="993" y="289">9</text><text x="1015" y="291" font-size="12">t</text>
<text x="754" y="207" font-size="12">V<tspan font-size="7" dy="2">C</tspan></text><text x="706" y="282" font-size="12">P<tspan font-size="7" dy="2">2</tspan></text><text x="737" y="304" font-size="12">H<tspan font-size="7" dy="2">2</tspan></text>
<text x="771" y="216" font-size="7.5">10″(9″)</text><text x="771" y="225" font-size="7.5">8″(7″)</text><text x="770" y="238" font-size="7.5">6″(11″)</text><text x="741" y="272" font-size="7.5">5″(12″)</text><text x="772" y="333" font-size="7.5">4″(1″)</text><text x="772" y="367" font-size="7.5">3″(2″)</text></g>
<path class="k" stroke-width=".6" d="M718.8 276.8L769 213.7M718.8 276.8L769 216M718.8 276.8L769 223M718.8 276.8L769 235.6M718.8 276.8L769 330.2M718.8 276.8L769 364.8M718.8 276.8H769M718.8 276.8V300"/>
<line x1="740" y1="298" x2="720" y2="298" class="k" marker-end="url(#ak)"/><line x1="748" y1="298" x2="768" y2="298" class="k" marker-end="url(#ak)"/>

<!-- Acceleration diagram -->
<text x="780" y="383" font-size="11" textLength="240" lengthAdjust="spacingAndGlyphs">Диаграмма ускорений ползуна С, μ′<tspan font-size="6" dy="2">a</tspan><tspan dy="-2">= 0,039 мм/м·с</tspan><tspan font-size="6" dy="-5">-2</tspan></text>
<path class="k" stroke-width=".8" d="M785.9 392V467.6M804.6 392V467.6M823.2 392V467.6M841.9 392V467.6M860.5 442V534.4M879.1 442V555.7M897.8 442V534.4M916.4 392V467.6M935.1 392V467.6M953.7 392V467.6M972.3 392V467.6M991 392V467.6"/>
<path class="k d" d="M776.6 398V467.6M813.9 400V467.6M851.2 442V508M869.8 442V550M888.5 442V553M907.1 442V510M944.4 398V467.6M981.6 398V467.6"/>
<line x1="767.1" y1="498" x2="767.1" y2="384" class="k" stroke-width=".9" marker-end="url(#ak)"/>
<line x1="767.1" y1="454.5" x2="1026" y2="454.5" class="k" stroke-width=".9" marker-end="url(#ak)"/>
<path class="b" stroke-width="1" d="M767.1 399H776L785.9 397.5C795 398 800 400 804.6 403C812 410 818 420 823.2 433C830 450 836 470 841.9 486C848 505 854 520 860.5 532C866 545 872 553 879.1 553C886 553 892 545 897.8 532C904 520 910 505 916.4 486C922 470 928 450 935.1 433C940 420 946 410 953.7 403C958 400 964 398 972.3 397.5L981 399H991"/>
<path class="r" d="M767.1 396.1H785.9C794 397 800 400 804.6 403.7C812 410 818 420 823.2 431.1C830 448 836 465 841.9 482.8C848 500 854 520 860.5 534.4C866 548 872 555.7 879.1 555.7C886 555.7 892 548 897.8 534.4C904 520 910 500 916.4 482.8C922 465 928 448 935.1 431.1C940 420 946 410 953.7 403.7C958 400 964 397 972.3 396.1H991"/>
<g font-size="9"><text x="770" y="464">9</text><text x="789" y="464">8</text><text x="808" y="464">7</text><text x="826" y="464">6</text><text x="845" y="464">5</text><text x="864" y="464">4</text><text x="883" y="464">3</text><text x="901" y="464">2</text><text x="919" y="464">1</text><text x="935" y="464">12</text><text x="954" y="464">11</text><text x="973" y="464">10</text><text x="992" y="464">9</text><text x="1014" y="471" font-size="12">t</text>
<text x="751" y="390" font-size="12">a<tspan font-size="7" dy="2">C</tspan></text></g>
<text x="919" y="510" font-size="11" textLength="115" lengthAdjust="spacingAndGlyphs">Годограф реакции R<tspan font-size="6" dy="2">03</tspan></text>
<text x="927" y="522" font-size="11" textLength="88" lengthAdjust="spacingAndGlyphs">μ<tspan font-size="6" dy="2">R03</tspan><tspan dy="-2"> = 0,05 мм/Н</tspan></text>
<line x1="963" y1="566.3" x2="1032" y2="566.3" class="k" stroke-width=".7"/>
<path class="b" stroke-width="1.1" d="M962.9 566.3C963 585 965 615 967.1 631.7C969 645 973 650 975 649.3C977 648 978 640 978.8 631.7C980 610 980 590 981 586.1C982 580 984 578 984.1 577C986 572 988 570 989.5 569.4C992 568 994 568 995.9 567.9C999 568 1000 569 1002.2 569.4C1005 569 1007 568 1008.6 567.9C1011 567 1012 566 1012.9 566.3C1014 560 1014 550 1015 546.6C1016 538 1017 529 1018.8 529C1020 529 1021 540 1022.5 546.6C1023 555 1024 560 1025.6 563.3C1027 567 1029 569 1029.9 569.4L1032 566.3"/>
<g class="k" stroke-width=".6" marker-end="url(#ak)"><line x1="967" y1="566.3" x2="967" y2="628"/><line x1="975" y1="566.3" x2="975" y2="647"/><line x1="981" y1="566.3" x2="981" y2="585"/><line x1="1018.8" y1="566.3" x2="1018.8" y2="531"/><line x1="1024" y1="566.3" x2="1024" y2="556"/></g>
<g font-size="5.5"><text x="959" y="565">3</text><text x="967" y="565">2</text><text x="973" y="565">1</text><text x="978" y="565">12</text><text x="984" y="565">11</text><text x="991" y="575">10 9</text><text x="1003" y="565">8</text><text x="1009" y="565">7 6</text><text x="1020" y="565">5</text><text x="1027" y="565">4</text></g>
<text x="783" y="571" font-size="11" textLength="114" lengthAdjust="spacingAndGlyphs">Годограф реакции R<tspan font-size="6" dy="2">14</tspan></text>
<text x="836" y="587" font-size="11" textLength="94" lengthAdjust="spacingAndGlyphs">μ<tspan font-size="6" dy="2">R14</tspan><tspan dy="-2"> = 0,005 мм/Н</tspan></text>
<path class="b" stroke-width="1" d="M792.6 588.5C786 590 780 594 779.9 598.3C779 605 780 610 786.9 622.6C792 630 797 632 802.2 634.7C806 640 810 644 812.9 643.9C822 646 830 646 836.3 645.4C850 643 860 638 867.1 636.3C880 633 895 631 897 628.7C890 625 870 623 844.8 622.6M792.6 588.5C788 596 786 605 786.9 622.6M792.6 588.5C797 589 800 590 801 592"/>
<g class="k" stroke-width=".6" marker-end="url(#ak)"><line x1="844.8" y1="622.6" x2="793" y2="589"/><line x1="844.8" y1="622.6" x2="799" y2="591"/><line x1="844.8" y1="622.6" x2="788" y2="593"/><line x1="844.8" y1="622.6" x2="781" y2="600"/><line x1="844.8" y1="622.6" x2="783" y2="609"/><line x1="844.8" y1="622.6" x2="788" y2="622.6"/><line x1="844.8" y1="622.6" x2="803" y2="634"/><line x1="844.8" y1="622.6" x2="813" y2="643"/><line x1="844.8" y1="622.6" x2="837" y2="644"/><line x1="844.8" y1="622.6" x2="866" y2="635"/><line x1="844.8" y1="622.6" x2="895" y2="628.5"/></g>
<g font-size="8.5"><text x="790" y="586">1</text><text x="800" y="587">12</text><text x="781" y="591">11</text><text x="775" y="600">2</text><text x="773" y="610">10</text><text x="777" y="625">9</text><text x="792" y="637">8</text><text x="806" y="650">7</text><text x="833" y="652">6</text><text x="868" y="643">5</text><text x="899" y="631">4</text><text x="858" y="621">3</text></g>

<!-- title block sheet 1 -->
<rect x="809.7" y="663.6" width="229.8" height="68.4" fill="none" stroke="#111" stroke-width="1.2"/>
<path stroke="#111" stroke-width=".5" fill="none" d="M809.7 670.6H890.5M809.7 677.3H890.5M809.7 683.4H890.5M809.7 695.5H890.5M809.7 701.6H890.5M809.7 707.7H890.5M809.7 713.8H890.5M809.7 719.9H890.5M809.7 726H890.5M977.8 689.5H1039.5M977.8 707.7H1039.5M984.2 689.5V707.7M990.6 689.5V707.7M998 707.7V713.8"/>
<path stroke="#111" stroke-width="1" fill="none" d="M818.2 663.6V695.5M831 663.6V732M859.7 663.6V732M878.2 663.6V732M890.5 663.6V732M890.5 682.8H1039.5M977.8 682.8V732M809.7 689.5H890.5M995.9 682.8V707.7M1017.1 682.8V707.7M890.5 713.8H1039.5"/>
<text x="907.5" y="678" font-size="14" textLength="116" lengthAdjust="spacingAndGlyphs">ТММ.М312.01.27.01 ТЧ</text>
<text x="896" y="695" font-size="7.5" textLength="78" lengthAdjust="spacingAndGlyphs">Рычажный механизм ДВС</text>
<text x="898" y="706" font-size="7.5" textLength="70" lengthAdjust="spacingAndGlyphs">Теоретический чертеж</text>
<g font-size="4"><text x="820" y="694">Лист</text><text x="837" y="694">№ докум.</text><text x="863" y="694">Подп.</text><text x="880" y="694">Дата</text><text x="812" y="706">Пров.</text><text x="833" y="706">Глухов Б.В.</text><text x="812" y="712">Т. контр.</text><text x="812" y="724">Н. контр.</text><text x="812" y="730">Утв.</text>
<text x="983" y="688">Лит.</text><text x="1001" y="688">Масса</text><text x="1019" y="688">Масштаб</text><text x="986" y="712">Лист</text><text x="1012" y="712">Листов  1</text></g>
<text x="980" y="701" font-size="7">У</text>
<text x="989.5" y="731" font-size="14" textLength="38" lengthAdjust="spacingAndGlyphs">СГУПС</text>

<!-- SHEET 2 -->
<text x="1186" y="24" font-size="9.5" textLength="148" lengthAdjust="spacingAndGlyphs">Диаграмма давлений, μ<tspan font-size="6" dy="2">p</tspan><tspan dy="-2">= 20 мм/МПа</tspan></text>
<text x="1267" y="34" font-size="9.5" textLength="64" lengthAdjust="spacingAndGlyphs">μ<tspan font-size="6" dy="2">φ</tspan><tspan dy="-2">= 28,7 мм/рад</tspan></text>
<path class="k" stroke-width=".8" d="M1145.6 37V99M1164.3 37V99M1182.9 37V99M1201.6 37V99M1220.2 37V99M1238.8 37V99M1257.5 37V99M1276.1 37V99M1294.8 37V99M1313.4 37V99M1332 37V99M1350.7 37V99"/>
<line x1="1127" y1="100" x2="1127" y2="36" class="k" stroke-width=".9" marker-end="url(#ak)"/>
<line x1="1127" y1="99" x2="1360" y2="99" class="k" stroke-width=".9" marker-end="url(#ak)"/>
<path class="b" stroke-width="1" d="M1127 95.3C1135 97 1140 98 1145.6 98.3L1164.3 98.3C1172 97 1178 95 1182.9 93.2C1190 90 1195 88 1201.6 86.2C1210 82 1215 79 1220.2 76.6C1230 72 1235 68 1238.8 63.4C1245 50 1252 39.4 1257.5 39.4C1265 39.4 1270 52 1276.1 61.7C1283 70 1288 73 1294.8 77.7C1302 82 1308 84 1313.4 86.2C1320 89 1326 91 1332 92.1L1350.7 95.3M1145.6 98.3H1350.7"/>
<path class="g" stroke-width="1" d="M1127 63.4C1133 48 1140 39.4 1145.6 39.4C1152 39.4 1158 50 1164.3 58.5C1170 66 1176 72 1182.9 76.6C1190 81 1195 84 1201.6 86.2C1208 89 1214 90.5 1220.2 91.9C1228 93.5 1233 94.5 1238.8 95.3L1257.5 98.3L1276.1 98.3C1283 97 1288 95 1294.8 93.6C1302 91 1308 89 1313.4 86.2C1320 82 1326 79 1332 76C1340 71 1345 67 1350.7 63.4M1127 98.8H1350.7"/>
<g font-size="8"><text x="1125" y="109">9</text><text x="1144" y="109">8</text><text x="1162" y="109">7</text><text x="1181" y="109">6</text><text x="1200" y="109">5</text><text x="1218" y="109">4</text><text x="1237" y="109">3</text><text x="1256" y="109">2</text><text x="1275" y="109">1</text><text x="1290" y="109">12</text><text x="1309" y="109">11</text><text x="1327" y="109">10</text><text x="1348" y="109">9</text>
<text x="1110" y="48" font-size="12">p</text></g>
<text transform="rotate(-90 1366 95)" x="1366" y="95" font-size="12">φ</text>
<text x="1135" y="124" font-size="8.5" textLength="216" lengthAdjust="spacingAndGlyphs">Диаграмма приведенных моментов сил, μ<tspan font-size="5.5" dy="2">M</tspan><tspan dy="-2">= 0,08 мм/Н·м</tspan></text>
<path class="k" stroke-width=".8" d="M1145.6 128V270.6M1164.3 128V270.6M1182.9 128V270.6M1201.6 128V270.6M1220.2 128V270.6M1238.8 128V270.6M1257.5 128V270.6M1276.1 128V270.6M1294.8 128V270.6M1313.4 128V270.6M1332 128V270.6M1350.7 128V270.6"/>
<path stroke="#333" stroke-width=".8" fill="none" d="M1127 136.2H1313.4M1127 156.4H1276.1M1127 161.1H1332M1127 199.4H1350.7M1127 201.7H1257.5M1127 211.3H1238.8M1127 230H1201.6M1127 232.6H1145.6M1127 257.9H1182.9M1127 258.8H1164.3"/>
<line x1="1127" y1="200.5" x2="1350.7" y2="200.5" class="r d"/>
<path class="k" stroke-width=".6" d="M1078 216.7L1127 136.2M1078 216.7L1127 156.4M1078 216.7L1127 161.1M1078 216.7L1127 199.4M1078 216.7L1127 201.7M1078 216.7L1127 211.3M1078 216.7L1127 230M1078 216.7L1127 232.6M1078 216.7L1127 257.9M1078 216.7L1127 258.8M1078 216.7H1127M1078 216.7V268"/>
<line x1="1078" y1="216.7" x2="1127" y2="200.5" class="r"/>
<line x1="1127" y1="272" x2="1127" y2="124" class="k" stroke-width=".9" marker-end="url(#ak)"/>
<line x1="1127" y1="216.7" x2="1360" y2="216.7" class="k" stroke-width=".9" marker-end="url(#ak)"/>
<path class="b" stroke-width="1.1" d="M1127 216.7C1133 230 1140 240 1145.6 247.9C1152 258 1158 266.4 1164.3 266.4C1171 266 1177 255 1182.9 244.7C1190 232 1195 222 1201.6 218.1C1208 210 1214 206.4 1220.2 206.4C1228 207 1233 216.7 1238.8 216.7C1245 214 1250 185 1257.5 173.5C1263 160 1270 150 1276.1 144.7C1283 137 1288 131.5 1294.8 131.5C1302 132 1308 140 1313.4 145.8C1320 158 1326 170 1332 179.8C1340 195 1345 210 1350.7 216.7"/>
<line x1="1100" y1="265" x2="1079" y2="265" class="k" marker-end="url(#ak)"/><line x1="1105" y1="265" x2="1126" y2="265" class="k" marker-end="url(#ak)"/>
<g font-size="8"><text x="1132" y="226">9</text><text x="1148" y="226">8</text><text x="1167" y="226">7</text><text x="1186" y="226">6</text><text x="1204" y="226">5</text><text x="1223" y="226">4</text><text x="1242" y="226">3</text><text x="1260" y="226">2</text><text x="1279" y="226">1</text><text x="1295" y="226">12</text><text x="1314" y="226">11</text><text x="1333" y="226">10</text><text x="1351" y="226">9</text>
<text x="1098" y="134" font-size="12">M<tspan font-size="7" dy="2">n</tspan></text><text x="1071" y="210" font-size="10">P<tspan font-size="6" dy="2">1</tspan></text><text x="1096" y="263" font-size="10">H<tspan font-size="6" dy="2">1</tspan></text></g>
<g font-size="4"><text x="1111" y="138">12′(11′)</text><text x="1120" y="157">1′</text><text x="1120" y="171">10′</text><text x="1120" y="198">9′</text><text x="1128" y="205">2′</text><text x="1114" y="211">4′(3′)</text><text x="1120" y="228">5′</text><text x="1120" y="236">8′</text><text x="1120" y="253">6′</text><text x="1120" y="261">7′</text></g>
<text transform="rotate(-90 1366 221)" x="1366" y="221" font-size="12">φ</text>
<text x="1195" y="282" font-size="8.5" textLength="142" lengthAdjust="spacingAndGlyphs">Диаграмма работ, μ<tspan font-size="5.5" dy="2">A</tspan><tspan dy="-2">= 0,057 мм/Дж</tspan></text>
<path class="k" stroke-width=".8" d="M1145.6 286V413.4M1164.3 286V413.4M1182.9 286V413.4M1201.6 286V413.4M1220.2 286V413.4M1238.8 286V413.4M1257.5 286V413.4M1276.1 286V413.4M1294.8 286V413.4M1313.4 286V413.4M1332 286V413.4M1350.7 286V413.4"/>
<line x1="1127" y1="414" x2="1127" y2="283" class="k" stroke-width=".9" marker-end="url(#ak)"/>
<line x1="1127" y1="367.5" x2="1360" y2="367.5" class="k" stroke-width=".9" marker-end="url(#ak)"/>
<line x1="1127" y1="367.5" x2="1350.7" y2="289.4" class="r" stroke-width="1.3"/>
<polyline class="b" stroke-width="1.1" points="1127,367.6 1145.6,373.4 1164.3,389.3 1182.9,404.8 1201.6,410 1220.2,407.6 1238.8,405.5 1257.5,399.8 1276.1,377.6 1294.8,346.7 1313.4,316.6 1332,295.8 1350.7,289.4"/>
<g font-size="8"><text x="1129" y="377">9</text><text x="1146" y="377">8</text><text x="1165" y="377">7</text><text x="1184" y="377">6</text><text x="1203" y="377">5</text><text x="1221" y="377">4</text><text x="1240" y="377">3</text><text x="1259" y="377">2</text><text x="1277" y="377">1</text><text x="1293" y="377">12</text><text x="1312" y="377">11</text><text x="1331" y="377">10</text><text x="1350" y="377">9</text>
<text x="1097" y="293" font-size="12">A<tspan font-size="7" dy="2">n</tspan></text><text x="1218" y="325" font-size="12">A<tspan font-size="7" dy="2">C</tspan></text><text x="1222" y="400" font-size="12">A<tspan font-size="7" dy="2">д</tspan></text></g>
<text transform="rotate(-90 1366 372)" x="1366" y="372" font-size="12">φ</text>
<text x="1130" y="424" font-size="8.5" textLength="249" lengthAdjust="spacingAndGlyphs">Диаграмма приращения кинетической энергии, μ<tspan font-size="5.5" dy="2">T</tspan><tspan dy="-2"> = 0,057 мм/Дж</tspan></text>
<text x="1287" y="434" font-size="8.5" textLength="58" lengthAdjust="spacingAndGlyphs">μ<tspan font-size="5.5" dy="2">ω</tspan><tspan dy="-2">= 68 мм/с</tspan><tspan font-size="5" dy="-4">-1</tspan></text>
<path class="k" stroke-width=".8" d="M1145.6 440.8V542.8M1164.3 440.8V542.8M1182.9 440.8V542.8M1201.6 440.8V542.8M1220.2 440.8V542.8M1238.8 440.8V542.8M1257.5 440.8V542.8M1276.1 440.8V542.8M1294.8 440.8V542.8M1313.4 440.8V542.8M1332 440.8V542.8M1350.7 440.8V542.8"/>
<line x1="1127" y1="542.8" x2="1127" y2="434" class="k" stroke-width=".9" marker-end="url(#ak)"/>
<line x1="1127" y1="440.8" x2="1360" y2="440.8" class="k" stroke-width=".9" marker-end="url(#ak)"/>
<line x1="1110" y1="491.8" x2="1360" y2="491.8" class="k" stroke-width=".7" marker-end="url(#ak)"/>
<line x1="1127" y1="542.8" x2="1350.7" y2="542.8" class="k" stroke-width=".8"/>
<path class="b" stroke-width=".8" d="M1124 443V540M1124 492V540"/>
<polyline class="k" stroke-width=".7" points="1127,440.8 1145.6,459.1 1164.3,497.1 1182.9,533.7 1201.6,542.8 1220.2,527.9 1238.8,517.9 1257.5,532.3 1276.1,537.1 1294.8,514 1313.4,476.1 1332,447.4 1350.7,440.8"/>
<path class="g" stroke-width="1.1" d="M1127 440.8C1135 448 1140 452 1145.6 459.1C1152 470 1158 485 1164.3 497.1C1170 512 1176 525 1182.9 533.7C1190 540 1196 543 1201.6 542.8C1208 542 1214 532 1220.2 527.9C1226 522 1232 517.9 1238.8 517.9C1245 519 1250 528 1257.5 532.3C1265 537 1270 539 1276.1 537.1C1283 533 1290 522 1294.8 514C1302 500 1308 488 1313.4 476.1C1320 462 1326 452 1332 447.4C1340 442 1345 441 1350.7 440.8"/>
<path class="b" stroke-width="1.1" d="M1127 440.8C1135 444 1140 448 1145.6 452.6C1152 460 1158 468 1164.3 475.6C1170 485 1176 492 1182.9 497.6C1190 503 1196 506 1201.6 508.8C1208 511 1214 512.5 1220.2 514C1226 515.5 1232 517 1238.8 517.9C1245 518.5 1250 519.5 1257.5 518.7C1265 514 1270 508 1276.1 502.3C1283 494 1288 485 1294.8 476.9C1302 467 1308 460 1313.4 455.2C1320 448 1326 443 1332 440.8H1350.7"/>
<g font-size="8"><text x="1129" y="451">9</text><text x="1148" y="451">8</text><text x="1167" y="451">7</text><text x="1186" y="451">6</text><text x="1204" y="451">5</text><text x="1223" y="451">4</text><text x="1242" y="451">3</text><text x="1260" y="451">2</text><text x="1279" y="451">1</text><text x="1295" y="451">12</text><text x="1314" y="451">11</text><text x="1333" y="451">10</text><text x="1351" y="451">9</text>
<text x="1106" y="438" font-size="12">ΔT</text><text x="1111" y="450" font-size="10">a</text><text x="1111" y="545" font-size="10">δ</text>
<text x="1267" y="484" font-size="12">ΔT</text><text x="1283" y="520" font-size="12">ΔT<tspan font-size="7" dy="2">I</tspan></text></g>
<text transform="rotate(-90 1120 496)" x="1120" y="496" font-size="7" style="fill:#5a6190">82,64</text>
<text transform="rotate(-90 1120 470)" x="1120" y="470" font-size="7" style="fill:#5a6190">41,32</text>
<text transform="rotate(-90 1106 520)" x="1106" y="520" font-size="11">ω<tspan font-size="7" dy="2">ср</tspan></text>
<text transform="rotate(-90 1367 446)" x="1367" y="446" font-size="12">φ</text>
<text transform="rotate(-90 1367 500)" x="1367" y="500" font-size="12">φ′</text>
<text x="1128" y="555" font-size="8.5" textLength="240" lengthAdjust="spacingAndGlyphs">Диаграмма приведенных моментов инерции, μ<tspan font-size="5.5" dy="2">I</tspan><tspan dy="-2"> = 800 мм/кг·м²</tspan></text>
<text x="1296" y="565" font-size="8.5" textLength="66" lengthAdjust="spacingAndGlyphs">μ<tspan font-size="5.5" dy="2">T</tspan><tspan dy="-2">= 0,088 мм/Дж</tspan></text>
<path class="k" stroke-width=".8" d="M1145.6 567.6V657.8M1164.3 567.6V657.8M1182.9 567.6V657.8M1201.6 567.6V657.8M1220.2 567.6V657.8M1238.8 567.6V657.8M1257.5 567.6V657.8M1276.1 567.6V657.8M1294.8 567.6V657.8M1313.4 567.6V657.8M1332 567.6V657.8M1350.7 567.6V657.8"/>
<line x1="1127" y1="658" x2="1127" y2="566" class="k" stroke-width=".9" marker-end="url(#ak)"/>
<line x1="1127" y1="627.8" x2="1360" y2="627.8" class="k" stroke-width=".7" marker-end="url(#ak)"/>
<line x1="1127" y1="657.8" x2="1360" y2="657.8" class="k" stroke-width=".9" marker-end="url(#ak)"/>
<path class="r" stroke-width="1.2" d="M1127 627.8C1135 624 1140 622 1145.6 618.6C1152 612 1158 604 1164.3 594.6C1170 584 1176 574 1182.9 571.6C1190 570 1196 572 1201.6 574.7C1208 580 1214 595 1220.2 606.9C1226 620 1232 627.8 1238.8 627.8C1245 627.8 1250 618 1257.5 606.9C1263 595 1270 580 1276.1 574.7C1283 571 1288 570 1294.8 571.6C1302 575 1308 585 1313.4 595.1C1320 605 1326 614 1332 618.6C1340 623 1345 625 1350.7 627.8"/>
<g font-size="8"><text x="1129" y="655">9</text><text x="1148" y="655">8</text><text x="1167" y="655">7</text><text x="1186" y="655">6</text><text x="1204" y="655">5</text><text x="1223" y="655">4</text><text x="1242" y="655">3</text><text x="1260" y="655">2</text><text x="1279" y="655">1</text><text x="1295" y="655">12</text><text x="1314" y="655">11</text><text x="1333" y="655">10</text><text x="1349" y="655">9</text>
<text x="1100" y="575" font-size="12">I<tspan font-size="7" dy="2">n</tspan></text><text x="1268" y="586" font-size="12">ΔT<tspan font-size="7" dy="2">II</tspan></text></g>
<text transform="rotate(-90 1367 632)" x="1367" y="632" font-size="12">φ′</text>
<text transform="rotate(-90 1367 661)" x="1367" y="661" font-size="12">φ</text>

<!-- angular acceleration diagram -->
<path stroke="#222" stroke-width=".7" fill="none" d="M1371 89.8H1553.8M1371 108.4H1553.8M1371 127.1H1553.8M1371 145.7H1553.8M1371 164.4H1553.8M1371 183H1553.8M1371 201.7H1553.8M1371 220.3H1553.8M1371 239H1553.8M1371 257.6H1553.8M1371 276.3H1553.8M1371 294.9H1553.8"/>
<path stroke="#333" stroke-width=".7" fill="none" stroke-dasharray="5 3" d="M1371 99.1H1553.8M1371 117.8H1553.8M1371 136.4H1553.8M1371 155.1H1553.8M1371 173.7H1553.8M1371 192.4H1553.8M1371 211H1553.8M1371 229.7H1553.8M1371 248.3H1553.8M1371 267H1553.8M1371 285.6H1553.8M1371 304.2H1553.8"/>
<line x1="1464.3" y1="313.5" x2="1464.3" y2="66" class="k" stroke-width=".9" marker-end="url(#ak)"/>
<line x1="1553.8" y1="313.5" x2="1365.6" y2="313.5" class="k" stroke-width=".9" marker-end="url(#ak)"/>
<path class="b" stroke-width="1.1" d="M1464.3 89.8C1458 94 1453 97 1447.8 99.2C1425 106 1405 110 1393.1 117.7C1380 125 1374 130 1374.9 136.4C1377 145 1390 151 1403.1 154.9C1418 160 1430 161 1441.2 163.9C1455 167 1468 169 1477.6 173.6C1495 180 1507 185 1507.4 192.2C1506 199 1495 201 1489.2 202.2C1470 206 1450 207 1436.2 211.1C1425 215 1420 222 1423 229.4C1427 240 1435 247 1446.1 247.9H1489.2C1520 255 1545 258 1548.8 266.4C1553 275 1553 282 1552.1 285.2C1548 296 1535 300 1514 303.9C1495 307 1478 310 1464.3 313.2"/>
<g font-size="7.5"><text transform="rotate(-90 1472 88)" x="1472" y="88">9</text><text transform="rotate(-90 1472 108)" x="1472" y="108">10</text><text transform="rotate(-90 1472 127)" x="1472" y="127">11</text><text transform="rotate(-90 1472 145)" x="1472" y="145">12</text><text transform="rotate(-90 1472 161)" x="1472" y="161">1</text><text transform="rotate(-90 1472 181)" x="1472" y="181">2</text><text transform="rotate(-90 1472 200)" x="1472" y="200">3</text><text transform="rotate(-90 1472 219)" x="1472" y="219">4</text><text transform="rotate(-90 1472 237)" x="1472" y="237">5</text><text transform="rotate(-90 1472 256)" x="1472" y="256">6</text><text transform="rotate(-90 1472 274)" x="1472" y="274">7</text><text transform="rotate(-90 1472 291)" x="1472" y="291">8</text><text transform="rotate(-90 1472 309)" x="1472" y="309">9</text></g>
<text transform="rotate(-90 1484 68)" x="1484" y="68" font-size="12">φ</text>
<text transform="rotate(-90 1382 289)" x="1382" y="289" font-size="9" textLength="174" lengthAdjust="spacingAndGlyphs">Диаграмма угловых ускорений, μ<tspan font-size="5.5" dy="2">ε</tspan><tspan dy="-2">= 95 мм/с</tspan><tspan font-size="5.5" dy="-4">-2</tspan></text>
<path class="k" stroke-width=".6" d="M1464.1 362.7L1384.2 313.5M1464.1 362.7L1404.1 313.5M1464.1 362.7L1414.4 313.5M1464.1 362.7L1423.2 313.5M1464.1 362.7L1434 313.5M1464.1 362.7L1447.8 313.5M1464.1 362.7L1458.9 313.5M1464.1 362.7L1477.7 313.5M1464.1 362.7L1482.2 313.5M1464.1 362.7L1488.5 313.5M1464.1 362.7L1502 313.5M1464.1 362.7L1512.3 313.5M1464.1 362.7L1552 313.5M1464.1 362.7H1529"/>
<circle cx="1464.1" cy="362.7" r="1.3" fill="#111"/>
<line x1="1528.7" y1="335" x2="1528.7" y2="314.5" class="k" marker-end="url(#ak)"/><line x1="1528.7" y1="340" x2="1528.7" y2="361.7" class="k" marker-end="url(#ak)"/>
<g font-size="6"><text transform="rotate(-90 1390 325)" x="1390" y="325">11′</text><text transform="rotate(-90 1405 327)" x="1405" y="327">10′</text><text transform="rotate(-90 1419 327)" x="1419" y="327">12′</text><text transform="rotate(-90 1425 327)" x="1425" y="327">4′</text><text transform="rotate(-90 1436 325)" x="1436" y="325">3′</text><text transform="rotate(-90 1450 325)" x="1450" y="325">9′</text><text transform="rotate(-90 1480 325)" x="1480" y="325">1′</text><text transform="rotate(-90 1486 325)" x="1486" y="325">5′</text><text transform="rotate(-90 1493 325)" x="1493" y="325">2′</text><text transform="rotate(-90 1517 325)" x="1517" y="325">8′</text><text transform="rotate(-90 1556 334)" x="1556" y="334">7′(6′)</text></g>
<text transform="rotate(-90 1380 323)" x="1380" y="323" font-size="12">ε</text>
<text transform="rotate(-90 1525 348)" x="1525" y="348" font-size="10">H<tspan font-size="6" dy="2">2</tspan></text>
<text transform="rotate(-90 1462 372)" x="1462" y="372" font-size="8">P<tspan font-size="5" dy="2">2</tspan></text>

<!-- flywheel -->
<text x="1428" y="411" font-size="11" textLength="84" lengthAdjust="spacingAndGlyphs">Маховик (М 1:4)</text>
<rect x="1447.1" y="427" width="31.2" height="196.1" fill="none" stroke="#111" stroke-width="1"/>
<path stroke="#111" stroke-width=".9" fill="none" d="M1447.1 454H1478.3M1447.1 506.7H1478.3M1447.1 515.4H1478.3M1460.8 454V506.7M1467.4 454V506.7"/>
<path stroke="#222" stroke-width=".5" fill="none" d="M1447.1 440L1460 427M1447.1 452L1472 427M1455 454L1478.3 431M1467 454L1478.3 443M1460.8 468L1467.4 461M1460.8 484L1467.4 477M1460.8 500L1467.4 493M1447.1 515L1456 506.7M1456 515.4L1465 506.7M1466 515.4L1475 506.7"/>
<path stroke="#444" stroke-width=".5" fill="none" stroke-dasharray="8 2 1 2" d="M1463.9 420V630"/>
<path stroke="#e5332a" stroke-width=".7" fill="none" stroke-dasharray="6 2 1 2" d="M1441.2 525H1484.2"/>
<path stroke="#5a6190" stroke-width=".6" fill="none" d="M1423 427H1447M1423 623H1447M1423 430V620M1432 454H1447M1435.1 457V556M1480 506.7H1509M1480 515.4H1497M1493.5 518V543M1505.8 509V541M1447.1 625V641M1478.3 625V641M1449 638H1476M1455 465H1470M1470 465H1486"/>
<text transform="rotate(-90 1426 540)" x="1426" y="540" font-size="6.5" style="fill:#5a6190">ø630</text>
<text transform="rotate(-90 1438 520)" x="1438" y="520" font-size="6.5" style="fill:#5a6190">ø 420</text>
<text transform="rotate(-90 1492 540)" x="1492" y="540" font-size="6.5" style="fill:#5a6190">ø 63</text>
<text transform="rotate(-90 1509 535)" x="1509" y="535" font-size="6.5" style="fill:#5a6190">ø 120</text>
<text x="1486" y="465" font-size="6.5" style="fill:#5a6190">25</text>
<text x="1457" y="636" font-size="6.5" style="fill:#5a6190">100</text>

<!-- title block sheet 2 -->
<rect x="1333.4" y="668.3" width="228.3" height="68" fill="none" stroke="#111" stroke-width="1.2"/>
<path stroke="#111" stroke-width=".5" fill="none" d="M1333.4 674.3H1414.6M1333.4 680.8H1414.6M1333.4 687.1H1414.6M1333.4 699.7H1414.6M1333.4 705.4H1414.6M1333.4 711.9H1414.6M1333.4 718H1414.6M1333.4 724H1414.6M1333.4 730.3H1414.6M1505.6 693.1V711.9M1512.2 693.1V711.9"/>
<path stroke="#111" stroke-width="1" fill="none" d="M1342.3 668.3V699.7M1354.9 668.3V736.3M1383.1 668.3V736.3M1401.9 668.3V736.3M1414.6 668.3V736.3M1414.6 687.1H1561.7M1499.1 687.1V736.3M1333.4 693.6H1414.6M1499.1 693.1H1561.7M1499.1 711.9H1561.7M1517.4 687.1V711.9M1538.5 687.1V711.9M1414.6 718H1561.7M1525 711.9V718"/>
<text x="1428" y="684" font-size="14" textLength="119" lengthAdjust="spacingAndGlyphs">ТММ.М312.01.27.02 ТЧ</text>
<text x="1426" y="703" font-size="7.5" textLength="55" lengthAdjust="spacingAndGlyphs">Расчет маховика</text>
<text x="1419.6" y="714" font-size="7.5" textLength="71" lengthAdjust="spacingAndGlyphs">Теоретический чертеж</text>
<g font-size="4"><text x="1334" y="698">Изм</text><text x="1343" y="698">Лист</text><text x="1360" y="698">№ докум.</text><text x="1386" y="698">Подп.</text><text x="1404" y="698">Дата</text><text x="1335" y="704">Разраб.</text><text x="1335" y="710">Пров.</text><text x="1357" y="710">Глухов Б.В.</text><text x="1335" y="716">Т. контр.</text><text x="1335" y="729">Н. контр.</text><text x="1335" y="735">Утв.</text>
<text x="1503" y="692">Лит.</text><text x="1521" y="692">Масса</text><text x="1540" y="692">Масштаб</text><text x="1506" y="716">Лист</text><text x="1533" y="716">Листов  1</text></g>
<text x="1500" y="705" font-size="7">У</text>
<text x="1503" y="733" font-size="14" textLength="44" lengthAdjust="spacingAndGlyphs">СГУПС</text>
</svg>
</body></html>
